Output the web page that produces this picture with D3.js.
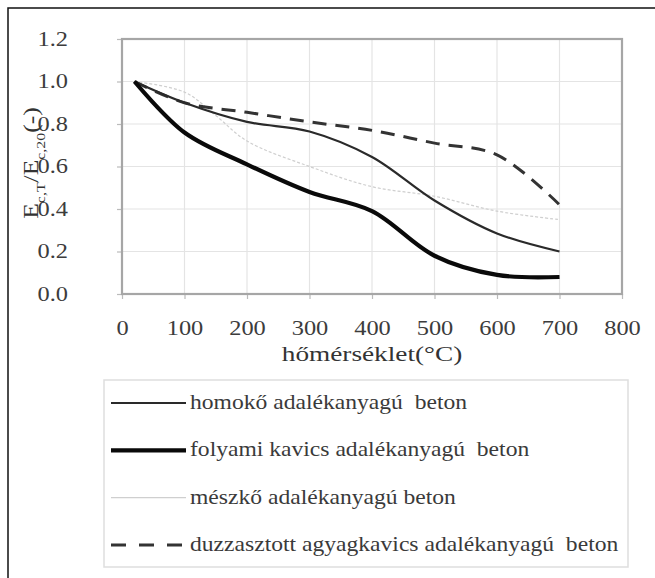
<!DOCTYPE html>
<html>
<head>
<meta charset="utf-8">
<script src="https://cdn.jsdelivr.net/npm/d3@7"></script>
<style>
  html, body { margin: 0; padding: 0; background: #fff; overflow: hidden; }
  svg { display: block; }
  svg text { white-space: pre; font-family: "Liberation Serif", "DejaVu Serif", "Noto Serif", serif; }
</style>
</head>
<body>
<svg id="chart" width="655" height="578"></svg>
<script>
// Relative modulus of elasticity E_c,T / E_c,20 against temperature (°C)
const homokoTemp   = [20, 100, 200, 300, 400, 500, 600, 700];
const homokoVal    = [1.00, 0.90, 0.81, 0.765, 0.645, 0.44, 0.285, 0.20];

const folyamiTemp  = [20, 100, 200, 300, 400, 500, 600, 700];
const folyamiVal   = [1.00, 0.76, 0.61, 0.48, 0.39, 0.18, 0.09, 0.08];

const meszkoTemp   = [20, 100, 150, 200, 300, 400, 500, 600, 700];
const meszkoVal    = [1.00, 0.95, 0.84, 0.72, 0.60, 0.505, 0.46, 0.39, 0.35];

const duzzTemp     = [20, 100, 200, 300, 400, 500, 600, 700];
const duzzVal      = [1.00, 0.90, 0.855, 0.81, 0.77, 0.71, 0.655, 0.42];

const seriesNames = [
  "homokő adalékanyagú  beton",
  "folyami kavics adalékanyagú  beton",
  "mészkő adalékanyagú beton",
  "duzzasztott agyagkavics adalékanyagú  beton"
];

const xTicks = [0, 100, 200, 300, 400, 500, 600, 700, 800];
const yTicks = [0, 0.2, 0.4, 0.6, 0.8, 1.0, 1.2];
const xTitle = "hőmérséklet(°C)";

const serif = '"Liberation Serif", "DejaVu Serif", "Noto Serif", serif';
const STRETCH = 1.22;   // the lettering is set slightly wide
const svg = d3.select("#chart");

// widen a text element around its own anchor point
function widen(sel, sx) {
  sel.each(function () {
    const t = d3.select(this);
    const tx = +t.attr("x") || 0, ty = +t.attr("y") || 0;
    t.attr("x", 0).attr("y", 0)
     .attr("transform", `translate(${tx},${ty}) scale(${sx},1)`);
  });
}

// outer frame (continues past the page edge)
svg.append("rect")
  .attr("x", 8).attr("y", 8).attr("width", 800).attr("height", 700)
  .attr("fill", "none").attr("stroke", "#111").attr("stroke-width", 1.5);

const plot = { left: 122, top: 39, width: 500, height: 255 };

const x = d3.scaleLinear().domain([0, 800]).range([plot.left, plot.left + plot.width]);
const y = d3.scaleLinear().domain([0, 1.2]).range([plot.top + plot.height, plot.top]);

// grid
const grid = svg.append("g");
grid.selectAll("line.v").data(xTicks.slice(1, -1)).join("line")
  .attr("x1", d => x(d)).attr("x2", d => x(d))
  .attr("y1", y(0)).attr("y2", y(1.2))
  .attr("stroke", "#e4e4e4").attr("stroke-width", 1.2);
grid.selectAll("line.h").data(yTicks.slice(1, -1)).join("line")
  .attr("x1", x(0)).attr("x2", x(800))
  .attr("y1", d => y(d)).attr("y2", d => y(d))
  .attr("stroke", "#e4e4e4").attr("stroke-width", 1.2);

// axes
const xAxis = svg.append("g")
  .attr("transform", `translate(0,${y(0)})`)
  .call(d3.axisBottom(x).tickValues(xTicks).tickSize(5).tickPadding(22).tickFormat(d3.format("d")));
const yAxis = svg.append("g")
  .attr("transform", `translate(${x(0)},0)`)
  .call(d3.axisLeft(y).tickValues(yTicks).tickSize(5).tickPadding(49).tickFormat(d3.format(".1f")));

[xAxis, yAxis].forEach(g => {
  g.attr("font-family", serif);
  g.select(".domain").remove();
  g.selectAll(".tick line").attr("stroke", "#bbb").attr("stroke-width", 1.2);
  g.selectAll(".tick text")
    .attr("fill", "#3c3c3c")
    .style("font-family", serif)
    .style("font-size", "20px")
    .call(widen, STRETCH);
});

// plot frame
svg.append("rect")
  .attr("x", x(0)).attr("y", y(1.2))
  .attr("width", x(800) - x(0)).attr("height", y(0) - y(1.2))
  .attr("fill", "none").attr("stroke", "#a6a6a6").attr("stroke-width", 2.2);

// series
const line = d3.line()
  .x(d => x(d[0])).y(d => y(d[1]))
  .curve(d3.curveCatmullRom.alpha(0.5));

const styles = [
  { stroke: "#2a2a2a", width: 2.2, dash: null },
  { stroke: "#0a0a0a", width: 4.2, dash: null },
  { stroke: "#cfcfcf", width: 1.2, dash: "3,2" },
  { stroke: "#333",    width: 3,   dash: "14,9" }
];

const seriesData = [
  d3.zip(homokoTemp, homokoVal),
  d3.zip(folyamiTemp, folyamiVal),
  d3.zip(meszkoTemp, meszkoVal),
  d3.zip(duzzTemp, duzzVal)
];

const drawOrder = [2, 3, 0, 1];
drawOrder.forEach(i => {
  svg.append("path")
    .datum(seriesData[i])
    .attr("d", line)
    .attr("fill", "none")
    .attr("stroke", styles[i].stroke)
    .attr("stroke-width", styles[i].width)
    .attr("stroke-dasharray", styles[i].dash)
    .attr("stroke-linejoin", "round");
});

// axis titles
svg.append("text")
  .attr("x", (x(0) + x(800)) / 2).attr("y", 361)
  .attr("text-anchor", "middle")
  .attr("fill", "#333")
  .style("font-size", "22px")
  .text(xTitle)
  .call(widen, 1.24);

const yTitle = svg.append("text")
  .attr("transform", `translate(38,163) rotate(-90) scale(${STRETCH},1)`)
  .attr("text-anchor", "middle")
  .attr("fill", "#333")
  .style("font-size", "21px");
yTitle.append("tspan").text("E");
yTitle.append("tspan").attr("baseline-shift", "sub").style("font-size", "13px").text("c,T");
yTitle.append("tspan").text("/E");
yTitle.append("tspan").attr("baseline-shift", "sub").style("font-size", "13px").text("c,20");
yTitle.append("tspan").text("(-)");

// legend
const legend = svg.append("g");
legend.append("rect")
  .attr("x", 104).attr("y", 380).attr("width", 524).attr("height", 187)
  .attr("fill", "#fff").attr("stroke", "#dedede").attr("stroke-width", 1.5);

const rowY = d3.scalePoint().domain(d3.range(seriesNames.length)).range([403, 545]);
seriesNames.forEach((name, i) => {
  const cy = rowY(i);
  legend.append("line")
    .attr("x1", 111).attr("x2", 186).attr("y1", cy).attr("y2", cy)
    .attr("stroke", styles[i].stroke)
    .attr("stroke-width", styles[i].width)
    .attr("stroke-dasharray", i === 3 ? "15,13" : null);
  legend.append("text")
    .attr("x", 190).attr("y", cy + 6)
    .attr("fill", "#3a3a3a")
    .style("font-size", "20px")
    .text(name)
    .call(widen, 1.18);
});
</script>
</body>
</html>
